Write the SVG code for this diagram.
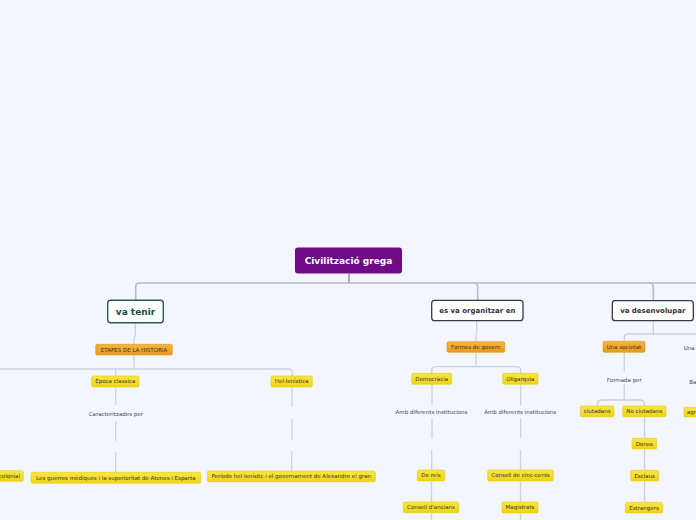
<svg xmlns="http://www.w3.org/2000/svg" width="696" height="520" viewBox="0 0 696 520">
<defs>
<linearGradient id="gy" x1="0" y1="0" x2="0" y2="1"><stop offset="0" stop-color="#f8e645"/><stop offset="1" stop-color="#efd515"/></linearGradient>
<linearGradient id="go" x1="0" y1="0" x2="0" y2="1"><stop offset="0" stop-color="#f5b440"/><stop offset="1" stop-color="#e99a1c"/></linearGradient>
<style>
text{font-family:"DejaVu Sans","Liberation Sans",sans-serif}
.c{fill:none;stroke:#cdd1da;stroke-width:1.3}
.cm{fill:none;stroke:#b7bac3;stroke-width:1.6}
.y rect{fill:url(#gy);stroke:#e3c90f;stroke-width:0.6}
.o rect{fill:url(#go);stroke:#dc9415;stroke-width:0.6}
.y text,.o text{font-size:5.5px;fill:#3b3520;text-anchor:middle}
.l{font-size:5.5px;fill:#45474d;text-anchor:middle}
.m rect{fill:#ffffff;stroke:#3a3a40;stroke-width:1.3}
.m text{font-size:7px;font-weight:bold;fill:#333338;text-anchor:middle}
</style>
</defs>
<rect width="696" height="520" fill="#f3f6fe"/>
<g id="connectors">
<path d="M349,273.7 V283" fill="none" stroke="#a3a5ab" stroke-width="1.8"/>
<path class="cm" d="M135.7,300.3 V287 Q135.7,283 139.7,283 H696"/>
<path class="cm" d="M473.7,283 Q477.7,283 477.7,287 V300.3"/>
<path class="cm" d="M649.3,283 Q653.3,283 653.3,287 V300.7"/>
<path class="c" d="M135.3,322.7 V336 L134,337.5 V344.3"/>
<path class="c" d="M134,355 V369"/>
<path class="c" d="M0,369 H288.3 Q292.3,369 292.3,373 V376"/>
<path class="c" d="M115.7,369 V376"/>
<path class="c" d="M115.7,387 V405 M115.7,421.7 V440.7 M115.7,452.3 V472.3"/>
<path class="c" d="M292,387 V407 M292,419 V440 M291.7,451 V471"/>
<path class="c" d="M476.7,320.7 V333 L476,334 V341.7"/>
<path class="c" d="M476,352.3 V366.7"/>
<path class="c" d="M431.7,373.3 V370.7 Q431.7,366.7 435.7,366.7 H516.7 Q520.7,366.7 520.7,370.7 V373.3"/>
<path class="c" d="M432,384.3 V405 M432,418.3 V438.3 M431.7,450 V470 M431.5,481 V502 M431.5,512.7 V520"/>
<path class="c" d="M520.7,384.3 V405 M520.7,418.3 V438.3 M520.5,450 V470 M520.5,481 V502 M520.5,513 V520"/>
<path class="c" d="M653.3,320.7 V334"/>
<path class="c" d="M624.3,341.3 V338 Q624.3,334 628.3,334 H696"/>
<path class="c" d="M624.3,352.3 V371.7 M624.3,384.3 V400"/>
<path class="c" d="M597.5,406 V404 Q597.5,400 601.5,400 H640.3 Q644.3,400 644.3,404 V406"/>
<path class="c" d="M644.5,416.7 V438.3 M644.5,449 V470.3 M644.5,481 V502.3"/>
</g>
<g id="root"><rect x="295" y="247.5" width="107" height="26" rx="3" fill="#6f0a87"/><text x="348.5" y="263.7" font-size="9" font-weight="bold" fill="#ffffff" text-anchor="middle">Civilització grega</text></g>
<g id="va-tenir"><rect x="107.7" y="300.3" width="55.6" height="22.4" rx="3" fill="#ffffff" stroke="#285c4c" stroke-width="1.4"/><text x="135.5" y="314.7" font-size="9" font-weight="bold" fill="#1d4a3c" text-anchor="middle">va tenir</text></g>
<g id="organitzar" class="m"><rect x="431.7" y="300.3" width="91.3" height="20.4" rx="3"/><text x="477.3" y="313">es va organitzar en</text></g>
<g id="desenvolupar" class="m"><rect x="612.3" y="300.7" width="81" height="20" rx="3"/><text x="652.8" y="313.2">va desenvolupar</text></g>
<g id="etapes" class="o"><rect x="95.7" y="344.3" width="76.6" height="10.7" rx="1.5"/><text x="134" y="351.6">ETAPES DE LA HISTÒRIA</text></g>
<g id="epoca" class="y"><rect x="91.7" y="376" width="47.3" height="11" rx="1.5"/><text x="115.3" y="383.4">Època classica</text></g>
<g id="hellenistica" class="y"><rect x="271" y="376" width="41.3" height="11" rx="1.5"/><text x="291.7" y="383.4">Hel·lenística</text></g>
<g id="caracteritzades"><text class="l" x="115.8" y="416">Caracteritzades per</text></g>
<g id="colonial" class="y"><rect x="-40" y="470.7" width="63.3" height="10.6" rx="1.5"/><text x="20" y="478" style="text-anchor:end">colonial</text></g>
<g id="guerres" class="y"><rect x="31" y="472.3" width="169.7" height="11" rx="1.5"/><text x="115.8" y="479.7">Les guerres mèdiques i la superioritat de  Atenes i Esparta</text></g>
<g id="periode" class="y"><rect x="207.3" y="471" width="168" height="10.7" rx="1.5"/><text x="291.3" y="478.2">Període hel·lenístic i el governament de Alexandre el gran</text></g>
<g id="formes" class="o"><rect x="447" y="341.7" width="57.7" height="10.6" rx="1.5"/><text x="475.8" y="349">Formes de govern</text></g>
<g id="democracia" class="y"><rect x="411.7" y="373.3" width="40" height="11" rx="1.5"/><text x="431.7" y="380.7">Democràcia</text></g>
<g id="oligarquia" class="y"><rect x="502.7" y="373.3" width="35.3" height="11" rx="1.5"/><text x="520.3" y="380.7">Oligarquia</text></g>
<g id="amb1"><text class="l" x="431.5" y="414">Amb diferents institucions</text></g>
<g id="amb2"><text class="l" x="520.2" y="414">Amb diferents institucions</text></g>
<g id="dereis" class="y"><rect x="417.3" y="470" width="27.4" height="11" rx="1.5"/><text x="431" y="477.4">De reis</text></g>
<g id="ancians" class="y"><rect x="403.3" y="502" width="55.4" height="10.7" rx="1.5"/><text x="431" y="509.2">Consell d'ancians</text></g>
<g id="cinccents" class="y"><rect x="487.7" y="470" width="65.6" height="11" rx="1.5"/><text x="520.5" y="477.4">Consell de cinc-cents</text></g>
<g id="magistrats" class="y"><rect x="502" y="502" width="36" height="11" rx="1.5"/><text x="520" y="509.4">Magistrats</text></g>
<g id="societat" class="o"><rect x="603" y="341.3" width="42" height="11" rx="1.5"/><text x="624" y="348.7">Una societat</text></g>
<g id="formada"><text class="l" x="624.3" y="382">Formada per</text></g>
<g id="ciutadans" class="y"><rect x="580.3" y="406" width="33.7" height="10.7" rx="1.5"/><text x="597.2" y="413.2">ciutadans</text></g>
<g id="nociutadans" class="y"><rect x="622.7" y="406" width="43.3" height="10.7" rx="1.5"/><text x="644.3" y="413.2">No ciutadans</text></g>
<g id="dones" class="y"><rect x="632" y="438.3" width="24.7" height="10.7" rx="1.5"/><text x="644.3" y="445.6">Dones</text></g>
<g id="esclaus" class="y"><rect x="630.7" y="470.3" width="28" height="10.7" rx="1.5"/><text x="644.7" y="477.6">Esclaus</text></g>
<g id="estrangers" class="y"><rect x="625.3" y="502.3" width="37.4" height="10.7" rx="1.5"/><text x="644" y="509.6">Estrangers</text></g>
<g id="una"><text class="l" x="683.7" y="350.3" style="text-anchor:start">Una</text></g>
<g id="ba"><text class="l" x="689.3" y="383.7" style="text-anchor:start">Ba</text></g>
<g id="agr" class="y"><rect x="684" y="407.3" width="30" height="9.6" rx="1.5"/><text x="687" y="414" style="text-anchor:start">agr</text></g>
</svg>
